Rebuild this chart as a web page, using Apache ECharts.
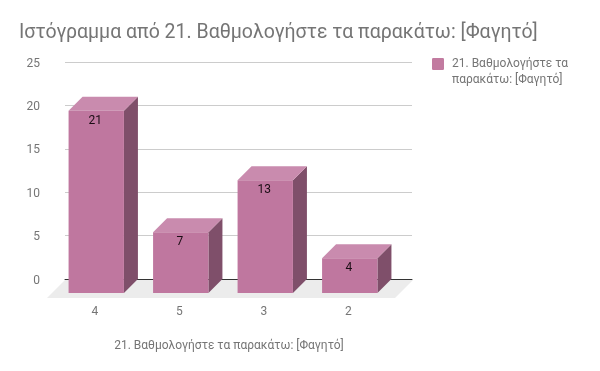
<!DOCTYPE html>
<html><head><meta charset="utf-8">
<style>html,body{margin:0;padding:0;background:#fff}#c{width:600px;height:371px}</style>
<script src="https://cdn.jsdelivr.net/npm/echarts@6/dist/echarts.min.js"></script>
</head><body><div id="c"></div>
<script>
const titleText = 'Ιστόγραμμα από 21. Βαθμολογήστε τα παρακάτω: [Φαγητό]';
const seriesName = '21. Βαθμολογήστε τα\nπαρακάτω: [Φαγητό]';
const axisName = '21. Βαθμολογήστε τα παρακάτω: [Φαγητό]';
const categories = ['4', '5', '3', '2'];
const values = [21, 7, 13, 4];
const yTicks = [0, 25];

const DEPTH = 14, FLOOR = 18;
const FRONT = '#bf779f', TOP = '#c98bae', SIDE = '#7f4f6a', LEGEND = '#c27ba0';
const FONT = 'Roboto';
const SQUARE = 'path://M1 0h8a1 1 0 0 1 1 1v8a1 1 0 0 1 -1 1h-8a1 1 0 0 1 -1 -1v-8a1 1 0 0 1 1 -1z';

function renderBar(params, api) {
  const cat = api.value(0), val = api.value(1);
  const top = api.coord([cat, val]);
  const bottom = api.coord([cat, 0]);
  const size = api.size([1, 0])[0];
  const w = size * 0.655;
  const x0 = top[0] - w / 2, x1 = top[0] + w / 2, yT = top[1], yB = bottom[1];
  return {
    type: 'group',
    children: [
      { type: 'polygon', shape: { points: [[x1, yT], [x1 + DEPTH, yT - DEPTH], [x1 + DEPTH, yB - DEPTH], [x1, yB]] }, style: { fill: SIDE } },
      { type: 'polygon', shape: { points: [[x0, yT], [x0 + DEPTH, yT - DEPTH], [x1 + DEPTH, yT - DEPTH], [x1, yT]] }, style: { fill: TOP } },
      { type: 'rect', shape: { x: x0, y: yT, width: w, height: yB - yT }, style: { fill: FRONT } },
      { type: 'text', x: top[0] - 1, y: yT + 10, style: { text: String(val), fill: '#1a0d14', font: '12px ' + FONT, align: 'center', verticalAlign: 'middle' } }
    ]
  };
}

function renderFloor(params, api) {
  const r = params.coordSys;
  const b = r.y + r.height + 1;
  const l = r.x, rr = r.x + r.width + 1;
  return {
    type: 'polygon',
    shape: { points: [[l, b], [rr, b], [rr - FLOOR, b + FLOOR], [l - FLOOR, b + FLOOR]] },
    style: { fill: '#ececec' }
  };
}

const chart = echarts.init(document.getElementById('c'), null, { renderer: 'canvas' });
chart.setOption({
  animation: false,
  backgroundColor: '#fff',
  textStyle: { fontFamily: FONT },
  title: {
    text: titleText, left: 14, top: 16,
    textStyle: { fontFamily: FONT, fontSize: 19.5, fontWeight: 'normal', color: '#757575', lineHeight: 24 }
  },
  legend: {
    data: [{ name: seriesName, icon: SQUARE, itemStyle: { color: LEGEND } }], left: 432, top: 40, orient: 'vertical',
    itemWidth: 18, itemHeight: 12, itemGap: 6,
    formatter: '\n{name}',
    textStyle: { fontFamily: FONT, fontSize: 12, color: '#757575', lineHeight: 16 },
    padding: 0
  },
  grid: [
    { left: 65, top: 62, width: 347, height: 217 },
    { left: 54, top: 76, width: 338, height: 217 }
  ],
  xAxis: [
    { gridIndex: 0, type: 'category', data: categories, show: true,
      axisLine: { show: true, onZero: true, lineStyle: { color: '#333', width: 1 } },
      axisTick: { show: false }, axisLabel: { show: false }, splitLine: { show: false } },
    { gridIndex: 1, type: 'category', data: categories,
      axisLine: { show: false }, axisTick: { show: false },
      axisLabel: { margin: 13, formatter: '{a|{value}}',
        rich: { a: { color: '#757575', fontSize: 12, fontFamily: FONT, padding: [0, 3, 0, 0] } } },
      name: axisName, nameLocation: 'middle', nameGap: 47,
      nameTextStyle: { color: '#757575', fontSize: 12, fontFamily: FONT, padding: [0, 0, 0, 12] } }
  ],
  yAxis: [
    { gridIndex: 0, type: 'value', min: yTicks[0], max: yTicks[1], interval: 5,
      axisLine: { show: false }, axisTick: { show: false },
      axisLabel: { margin: 25, formatter: '{a|{value}}',
        rich: { a: { color: '#757575', fontSize: 12, fontFamily: FONT, padding: [3, 0, 0, 0] } } },
      splitLine: { show: true, lineStyle: { color: '#cccccc', width: 1 } } },
    { gridIndex: 1, type: 'value', min: yTicks[0], max: yTicks[1], interval: 5,
      show: false, splitLine: { show: false } }
  ],
  series: [
    { type: 'custom', name: 'floor', xAxisIndex: 0, yAxisIndex: 0, silent: true, z: 1,
      data: [[0, 0]], renderItem: renderFloor, encode: { x: 0, y: 1 } },
    { type: 'custom', name: seriesName, xAxisIndex: 1, yAxisIndex: 1, z: 3,
      itemStyle: { color: FRONT },
      data: values.map((v, i) => [i, v]), renderItem: renderBar, encode: { x: 0, y: 1 } }
  ]
});
</script></body></html>
